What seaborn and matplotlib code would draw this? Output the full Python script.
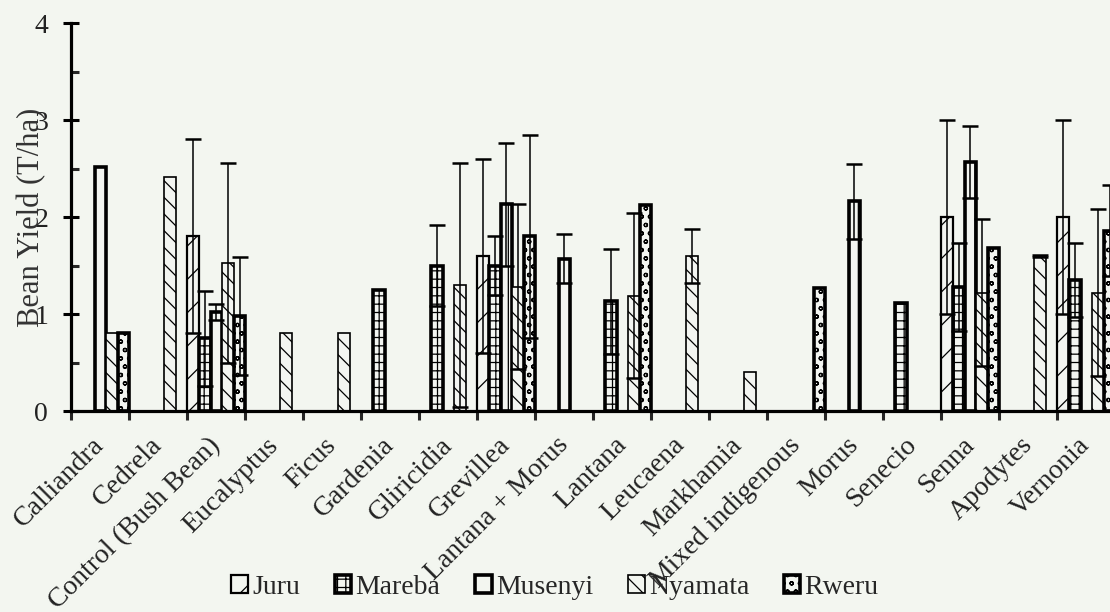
import numpy as np
import pandas as pd
import seaborn as sns
import matplotlib.pyplot as plt
from matplotlib.patches import Patch

nan = np.nan

categories = ["Calliandra", "Cedrela", "Control (Bush Bean)", "Eucalyptus", "Ficus",
              "Gardenia", "Gliricidia", "Grevillea", "Lantana + Morus", "Lantana",
              "Leucaena", "Markhamia", "Mixed indigenous", "Morus", "Senecio",
              "Senna", "Apodytes", "Vernonia"]
sites = ["Juru", "Mareba", "Musenyi", "Nyamata", "Rweru"]

# mean bean yield (T/ha) per site and tree species
juru =    [nan, nan, 1.80, nan, nan, nan, nan, 1.60, nan, nan, nan, nan, nan, nan, nan, 2.00, nan, 2.00]
mareba =  [nan, nan, 0.75, nan, nan, 1.25, 1.50, 1.50, nan, 1.13, nan, nan, nan, nan, 1.11, 1.28, nan, 1.35]
musenyi = [2.52, nan, 1.02, nan, nan, nan, nan, 2.13, 1.57, nan, nan, nan, nan, 2.16, nan, 2.57, nan, nan]
nyamata = [0.80, 2.41, 1.53, 0.80, 0.80, nan, 1.30, 1.28, nan, 1.19, 1.60, 0.40, nan, nan, nan, 1.22, 1.60, 1.22]
rweru =   [0.80, nan, 0.98, nan, nan, nan, nan, 1.80, nan, 2.12, nan, nan, 1.27, nan, nan, 1.68, nan, 1.86]

# standard deviations (error bars)
juru_err =    [nan, nan, 1.00, nan, nan, nan, nan, 1.00, nan, nan, nan, nan, nan, nan, nan, 1.00, nan, 1.00]
mareba_err =  [nan, nan, 0.49, nan, nan, nan, 0.42, 0.30, nan, 0.54, nan, nan, nan, nan, nan, 0.45, nan, 0.38]
musenyi_err = [nan, nan, 0.08, nan, nan, nan, nan, 0.63, 0.25, nan, nan, nan, nan, 0.39, nan, 0.37, nan, nan]
nyamata_err = [nan, nan, 1.03, nan, nan, nan, 1.26, 0.85, nan, 0.85, 0.28, nan, nan, nan, nan, 0.76, 0.01, 0.86]
rweru_err =   [nan, nan, 0.61, nan, nan, nan, nan, 1.05, nan, nan, nan, nan, nan, nan, nan, nan, nan, 0.47]

values = {"Juru": juru, "Mareba": mareba, "Musenyi": musenyi, "Nyamata": nyamata, "Rweru": rweru}
errors = {"Juru": juru_err, "Mareba": mareba_err, "Musenyi": musenyi_err,
          "Nyamata": nyamata_err, "Rweru": rweru_err}

rows = []
for s in sites:
    for c, v, e in zip(categories, values[s], errors[s]):
        if not np.isnan(v):
            rows.append({"category": c, "site": s, "value": v, "err": e})
df = pd.DataFrame(rows)

bg = "#f3f6f0"
hatches = {"Juru": "/", "Mareba": "++", "Musenyi": "|", "Nyamata": "\\\\", "Rweru": "oo"}
edge_lw = {"Juru": 1.6, "Mareba": 2.6, "Musenyi": 2.6, "Nyamata": 1.2, "Rweru": 2.6}

sns.set_style("ticks")
plt.rcParams["font.family"] = ["Liberation Serif", "DejaVu Serif"]
plt.rcParams["hatch.color"] = "black"
plt.rcParams["hatch.linewidth"] = 0.9

fig = plt.figure(figsize=(11.1, 6.12), dpi=100, facecolor=bg)
ax = fig.add_axes([0.0644, 0.3284, 0.9405, 0.6340])
ax.set_facecolor(bg)

sns.barplot(data=df, x="category", y="value", hue="site", order=categories,
            hue_order=sites, width=1.0, dodge=True, errorbar=None,
            palette={s: bg for s in sites}, legend=False, ax=ax)

lookup = {(r.site, r.category): r.err for r in df.itertuples()}
bars = [p for p in ax.patches if p is not None]
for bar in bars:
    xc = bar.get_x() + bar.get_width() / 2
    k = int(round(xc))
    s = sites[int(round((xc - k) / 0.2)) + 2]
    bar.set_hatch(hatches[s])
    bar.set_edgecolor("black")
    bar.set_linewidth(edge_lw[s])
    e = lookup.get((s, categories[k]), nan)
    if not np.isnan(e):
        ax.errorbar(xc, bar.get_height(), yerr=e, fmt="none", ecolor="black",
                    elinewidth=1.1, capsize=6, capthick=1.8, zorder=5)

ax.set_xlim(-0.5, 17.5)
ax.set_ylim(0, 4)
sns.despine(ax=ax)
for sp in ("left", "bottom"):
    ax.spines[sp].set_linewidth(2.3)
    ax.spines[sp].set_color("black")

ax.set_yticks([0, 1, 2, 3, 4])
ax.set_yticks(np.arange(0.5, 4, 1.0), minor=True)
ax.tick_params(axis="y", which="major", direction="inout", length=11.5, width=2.2,
               labelsize=20, pad=11, colors="black", labelcolor="#222222")
ax.tick_params(axis="y", which="minor", direction="in", length=5.8, width=2.2)

ax.set_xticks(range(len(categories)))
ax.set_xticks(np.arange(-0.5, len(categories), 1.0), minor=True)
ax.set_xticklabels(categories, rotation=45, ha="right", va="center",
                   rotation_mode="anchor", fontsize=20, color="#222222")
ax.tick_params(axis="x", which="major", length=0, pad=22)
ax.tick_params(axis="x", which="minor", direction="out", length=6.5, width=2.2)

ax.set_xlabel("")
ax.set_ylabel("Bean Yield (T/ha)", fontsize=22, color="#333333")
ax.yaxis.set_label_coords(-0.024, 0.5)

handles = [Patch(facecolor=bg, edgecolor="black", hatch=hatches[s], linewidth=edge_lw[s])
           for s in sites]
fig.legend(handles, sites, loc="center", bbox_to_anchor=(0.5, 0.04), ncol=5,
           frameon=False, fontsize=20, handlelength=0.6, handleheight=0.6,
           handletextpad=0.15, columnspacing=1.25)

fig.savefig("out.png", dpi=100, facecolor=bg)
